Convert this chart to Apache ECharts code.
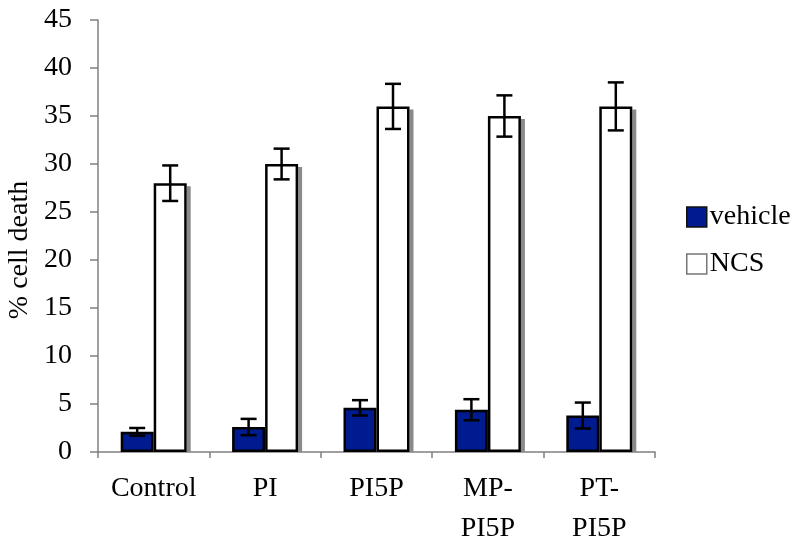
<!DOCTYPE html>
<html>
<head>
<meta charset="utf-8">
<script src="https://cdn.jsdelivr.net/npm/echarts@6/dist/echarts.min.js"></script>
<style>html,body{margin:0;padding:0;background:#fff}#c{width:800px;height:545px}</style>
</head>
<body>
<div id="c"></div>
<script>
const categories = ['Control', 'PI', 'PI5P', 'MP-\nPI5P', 'PT-\nPI5P'];
const vehicleValues = [2.1, 2.6, 4.6, 4.4, 3.8];
const vehicleErrors = [0.4, 0.85, 0.8, 1.1, 1.35];
const ncsValues = [28, 30, 36, 35, 36];
const ncsErrors = [1.85, 1.6, 2.35, 2.15, 2.5];
const yTicks = [0, 5, 10, 15, 20, 25, 30, 35, 40, 45];

const FONT = 'Liberation Serif';
const FS = 28;
const BAR_W = 33;

function errData(vals, errs) {
  return vals.map((v, i) => [i, v - errs[i], v + errs[i]]);
}
function errRender(offsetSign) {
  return function (params, api) {
    const i = api.value(0);
    const lo = api.coord([i, api.value(1)]);
    const hi = api.coord([i, api.value(2)]);
    const x = lo[0] + offsetSign * BAR_W / 2;
    const cap = 8;
    const st = { stroke: '#000', lineWidth: 2.5 };
    return {
      type: 'group',
      children: [
        { type: 'line', shape: { x1: x, y1: lo[1], x2: x, y2: hi[1] }, style: st },
        { type: 'line', shape: { x1: x - cap, y1: hi[1], x2: x + cap, y2: hi[1] }, style: st },
        { type: 'line', shape: { x1: x - cap, y1: lo[1], x2: x + cap, y2: lo[1] }, style: st }
      ]
    };
  };
}
function shadowRender(params, api) {
  const i = api.value(0);
  const top = api.coord([i, api.value(1)]);
  const base = api.coord([i, 0]);
  const xr = top[0] + BAR_W;
  return {
    type: 'rect',
    shape: { x: xr, y: top[1] + 3, width: 4, height: base[1] - top[1] - 3 },
    style: { fill: '#8a8a8a' }
  };
}

const chart = echarts.init(document.getElementById('c'), null, { renderer: 'canvas' });
chart.setOption({
  animation: false,
  backgroundColor: '#fff',
  textStyle: { fontFamily: FONT, color: '#000' },
  grid: { left: 98, right: 145, top: 20, bottom: 93, containLabel: false, outerBoundsMode: 'none' },
  legend: {
    orient: 'vertical',
    left: 681,
    top: 198,
    itemWidth: 20,
    itemHeight: 20,
    itemGap: 19,
    icon: 'rect',
    textStyle: { fontFamily: FONT, fontSize: FS, color: '#000', padding: [0, 0, 0, -2] },
    data: [
      { name: 'vehicle', itemStyle: { color: '#001a8f', borderColor: '#111', borderWidth: 1.5 } },
      { name: 'NCS', itemStyle: { color: '#fff', borderColor: '#777', borderWidth: 1.5 } }
    ]
  },
  graphic: [{
    type: 'text', x: 20, y: 250, rotation: Math.PI / 2,
    style: { text: '% cell death', font: FS + 'px "Liberation Serif"', fill: '#000', textAlign: 'center', textVerticalAlign: 'middle' }
  }],
  xAxis: {
    type: 'category',
    data: categories,
    axisLine: { lineStyle: { color: '#808080', width: 1.5 } },
    axisTick: { show: true, length: 6, lineStyle: { color: '#808080', width: 1.5 } },
    axisLabel: { fontFamily: FONT, fontSize: FS, color: '#000', margin: 17, lineHeight: 40, interval: 0 }
  },
  yAxis: {
    type: 'value',
    min: 0, max: 45, interval: 5,
    splitLine: { show: false },
    axisLine: { show: true, lineStyle: { color: '#808080', width: 1.5 } },
    axisTick: { show: true, length: 8, lineStyle: { color: '#808080', width: 1.5 } },
    axisLabel: {
      fontFamily: FONT, fontSize: FS, color: '#000', margin: 26,
      formatter: v => yTicks.indexOf(v) >= 0 ? String(v) : ''
    }
  },
  series: [
    { type: 'custom', name: 'ncsShadow', data: ncsValues.map((v, i) => [i, v]), renderItem: shadowRender, z: 1, silent: true, encode: { x: 0, y: 1 } },
    {
      name: 'vehicle', type: 'bar', data: vehicleValues, barWidth: BAR_W, barGap: '0%', z: 2,
      itemStyle: { color: '#001a8f', borderColor: '#000', borderWidth: 2.5 }
    },
    {
      name: 'NCS', type: 'bar', data: ncsValues, barWidth: BAR_W, barGap: '0%', z: 2,
      itemStyle: { color: '#fff', borderColor: '#000', borderWidth: 2.5 }
    },
    { type: 'custom', name: 'vehicleErr', data: errData(vehicleValues, vehicleErrors), renderItem: errRender(-1), z: 5, silent: true, encode: { x: 0, y: [1, 2] } },
    { type: 'custom', name: 'ncsErr', data: errData(ncsValues, ncsErrors), renderItem: errRender(1), z: 5, silent: true, encode: { x: 0, y: [1, 2] } }
  ]
});
</script>
</body>
</html>
